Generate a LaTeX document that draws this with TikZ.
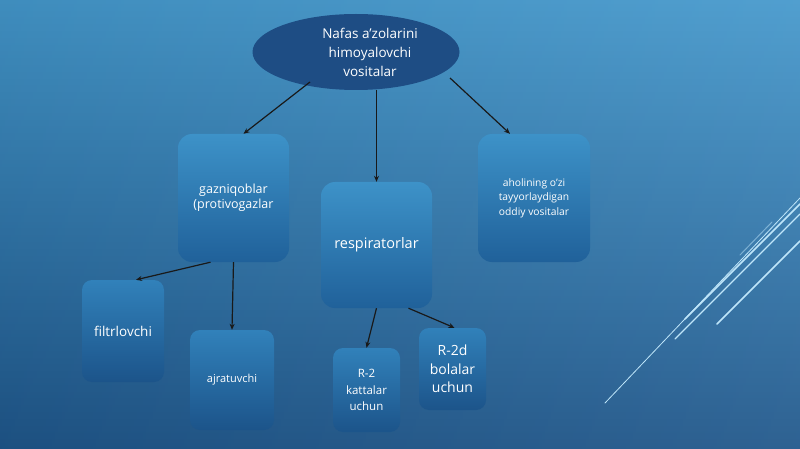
\documentclass[tikz,border=0pt]{standalone}
\usepackage{fontspec}
\setmainfont{Open Sans}
\usetikzlibrary{shapes.geometric,arrows.meta}
\definecolor{bgTop}{HTML}{4498CC}
\definecolor{bgBot}{HTML}{1F568A}
\definecolor{ellfill}{HTML}{1E4D84}
\definecolor{boxtop}{HTML}{3D92C8}
\definecolor{boxbot}{HTML}{20619A}
\definecolor{sboxtop}{HTML}{3181BA}
\definecolor{sboxbot}{HTML}{1C548A}
\definecolor{deco}{HTML}{BFE6FA}
\tikzset{
  bigbox/.style={rounded corners=14pt, top color=boxtop, bottom color=boxbot, draw=none, text=white, align=center, inner sep=0pt},
  smallbox/.style={rounded corners=10pt, top color=sboxtop, bottom color=sboxbot, draw=none, text=white, align=center, inner sep=0pt},
  conn/.style={draw=black!90, line width=1.2pt, -{Stealth[length=6pt,width=5pt]}},
  decoline/.style={draw=deco, line cap=round}
}
\begin{document}
\begin{tikzpicture}[x=1pt,y=-1pt]
\shade[top color=bgTop, bottom color=bgBot] (0,0) rectangle (800,449);
\shade[left color=black, right color=white, opacity=0.07] (0,0) rectangle (800,449);
\useasboundingbox (0,0) rectangle (800,449);
% decorative lines
\draw[decoline, line width=0.8pt] (605,403) -- (800,198);
\draw[decoline, line width=1.6pt] (685,319) -- (800,204);
\draw[decoline, line width=1.2pt] (675,339) -- (800,214);
\draw[decoline, line width=1.6pt] (717,324) -- (800,241);
\draw[decoline, line width=1pt, opacity=0.5] (740,255) -- (772,222);
% nodes
\node[ellipse, fill=ellfill, minimum width=207pt, minimum height=76pt, inner sep=0pt] (top) at (356,52) {};
\node[text=white, align=center, inner sep=0pt, font=\fontsize{13.5}{19}\selectfont] (toptxt) at (370,52) {Nafas a’zolarini\\himoyalovchi\\vositalar};
\node[bigbox, minimum width=111pt, minimum height=128pt, font=\fontsize{12.5}{15.5}\selectfont] (gaz) at (233.5,198) {gazniqoblar\\(protivogazlar};
\node[bigbox, minimum width=111pt, minimum height=126pt, font=\fontsize{14.5}{17}\selectfont] (resp) at (376.5,245) {respiratorlar};
\node[bigbox, minimum width=112pt, minimum height=128pt, font=\fontsize{10.3}{14.5}\selectfont] (ahol) at (534,198) {aholining o’zi\\tayyorlaydigan\\oddiy vositalar};
\node[smallbox, minimum width=82pt, minimum height=102pt, font=\fontsize{13.5}{17}\selectfont] (filt) at (123,331) {filtrlovchi};
\node[smallbox, minimum width=84pt, minimum height=100pt, font=\fontsize{11}{15}\selectfont] (ajr) at (232,380) {ajratuvchi};
\node[smallbox, minimum width=67pt, minimum height=84pt, font=\fontsize{11.5}{16.5}\selectfont] (r2) at (366.5,390) {R-2\\kattalar\\uchun};
\node[smallbox, minimum width=67pt, minimum height=82pt, font=\fontsize{14}{18.5}\selectfont] (r2d) at (452.5,369) {R-2d\\bolalar\\uchun};
% connectors
\draw[conn] ([shift={(-46,30)}]top.center) -- ([xshift=10pt]gaz.north);
\draw[conn] (top.south -| resp.north) -- (resp.north);
\draw[conn] ([shift={(94,26)}]top.center) -- ([xshift=-24pt]ahol.north);
\draw[conn] ([xshift=-23pt]gaz.south) -- ([xshift=13pt]filt.north);
\draw[conn] (gaz.south) -- (ajr.north);
\draw[conn] (resp.south) -- (r2.north);
\draw[conn] ([xshift=32pt]resp.south) -- ([xshift=2pt]r2d.north);
\end{tikzpicture}
\end{document}
